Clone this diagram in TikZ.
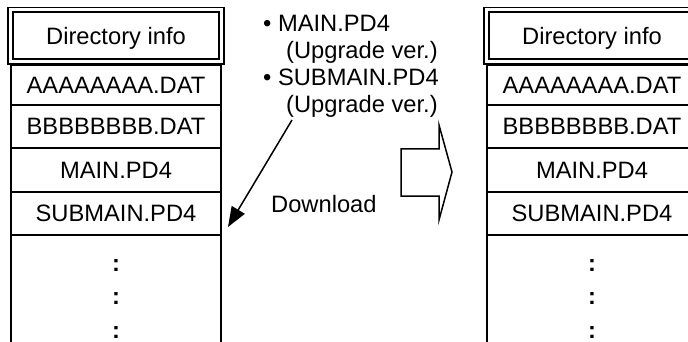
\documentclass[tikz,border=0pt]{standalone}
\usepackage{fontspec}
\setmainfont{Liberation Sans}
\usetikzlibrary{arrows.meta}
\newcommand\dircolumn[2]{%
  \node[hdr] (#2h) at (#1,35.75) {Directory info};
  \node[cell, minimum height=40pt] (#2a) at (#1,64) {AAAAAAAA.DAT};
  \node[cell, minimum height=43pt] (#2b) at (#1,104) {BBBBBBBB.DAT};
  \node[cell, minimum height=44pt] (#2m) at (#1,147) {MAIN.PD4};
  \node[cell, minimum height=43pt] (#2s) at (#1,191) {SUBMAIN.PD4};
  \node[cell, minimum height=108.5pt] (#2r) at (#1,234) {};
  \node[dots] (#2d1) at (#1,271) {:};
  \node[dots] (#2d2) at (#1,304) {:};
  \node[dots] (#2d3) at (#1,338) {:};
}
\begin{document}
\begin{tikzpicture}[x=1pt,y=-1pt,
  font=\fontsize{23.7}{28}\selectfont,
  cell/.style={draw, line width=1.6pt, minimum width=210pt, text height=17pt,
    text depth=0pt, inner sep=0pt, anchor=north},
  hdr/.style={draw, double, double distance=3pt, line width=1.8pt,
    minimum width=210.5pt, minimum height=51.5pt, text height=17pt,
    text depth=0pt, inner sep=0pt},
  dots/.style={anchor=base, inner sep=0pt, font=\fontsize{23.7}{28}\selectfont\bfseries},
  lbl/.style={anchor=base west, inner sep=0pt},
  blockarrow/.style={draw, line width=1.5pt, line join=miter}]
\useasboundingbox (0,0) rectangle (688,342);
\clip (0,0) rectangle (688,342);
\dircolumn{116}{L}
\dircolumn{592}{R}
% middle texts
\node[lbl] (t1) at (263,32) {• MAIN.PD4};
\node[lbl] (t2) at (286,59) {(Upgrade ver.)};
\node[lbl] (t3) at (263,86) {• SUBMAIN.PD4};
\node[lbl] (t4) at (286,113) {(Upgrade ver.)};
\node[lbl] (dl) at (271,212) {Download};
% download arrow
\coordinate (dlS) at (292,120);
\coordinate (dlE) at (228,227);
\draw[line width=1.5pt, -{Triangle[length=20pt,width=15pt]}] (dlS) -- (dlE);
% block arrow
\draw[blockarrow] (401,149) -- (439,149) -- (439,125) -- (452,172)
  -- (439,220) -- (439,196) -- (401,196) -- cycle;
\end{tikzpicture}
\end{document}
